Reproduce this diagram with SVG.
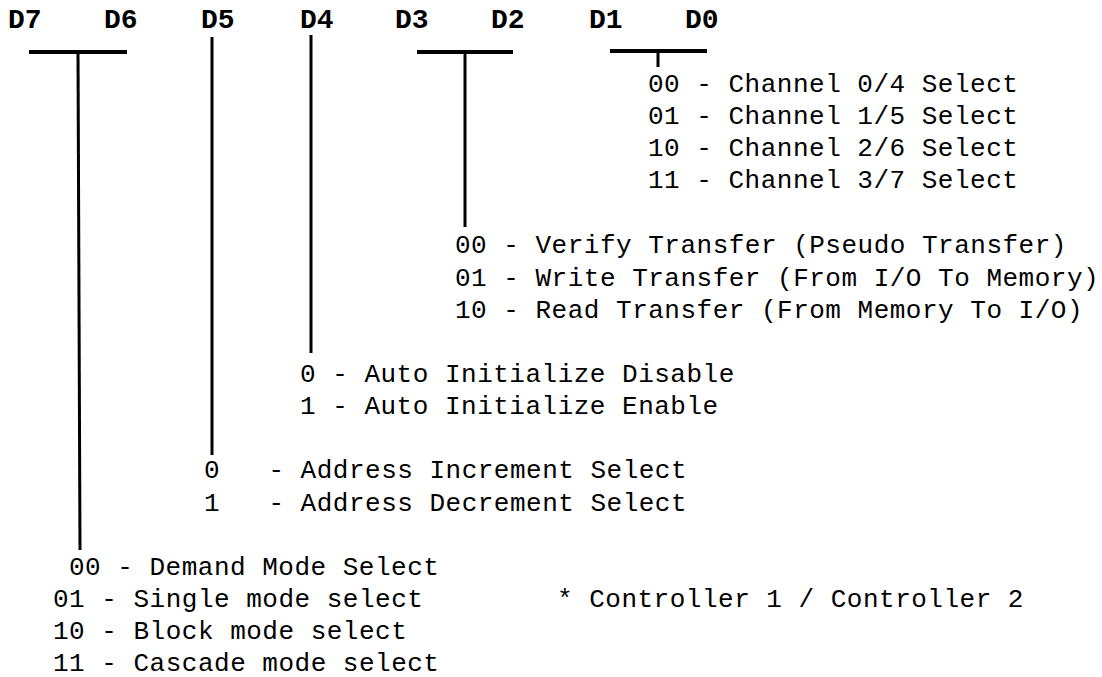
<svg xmlns="http://www.w3.org/2000/svg" width="1102" height="677" viewBox="0 0 1102 677">
<style>
.hdr{font-family:"Liberation Mono","DejaVu Sans Mono",monospace;font-weight:bold;font-size:28px;fill:#000}
.t{font-family:"Liberation Mono","DejaVu Sans Mono",monospace;font-size:26px;letter-spacing:0.5px;fill:#000}
.bar{stroke:#000;stroke-width:4;fill:none}
.ln{stroke:#000;stroke-width:3;fill:none}
</style>
<rect width="1102" height="677" fill="#fff"/>
<g id="headers">
<text class="hdr" x="8" y="28">D7</text>
<text class="hdr" x="104" y="28">D6</text>
<text class="hdr" x="201" y="28">D5</text>
<text class="hdr" x="300" y="28">D4</text>
<text class="hdr" x="395" y="28">D3</text>
<text class="hdr" x="491" y="28">D2</text>
<text class="hdr" x="589" y="28">D1</text>
<text class="hdr" x="685" y="28">D0</text>
</g>
<g id="connectors">
<line class="bar" x1="29" y1="52" x2="127" y2="52"/>
<line class="ln" x1="78" y1="52" x2="80" y2="550"/>
<line class="ln" x1="212" y1="37" x2="212" y2="455"/>
<line class="ln" x1="311" y1="35" x2="311" y2="353"/>
<line class="bar" x1="417" y1="52" x2="513" y2="52"/>
<line class="ln" x1="465" y1="52" x2="465" y2="227"/>
<line class="bar" x1="610" y1="51" x2="707" y2="51"/>
<line class="ln" x1="658" y1="51" x2="658" y2="67"/>
</g>
<g id="d1d0">
<text class="t" x="648" y="92" xml:space="preserve">00 - Channel 0/4 Select</text>
<text class="t" x="648" y="124" xml:space="preserve">01 - Channel 1/5 Select</text>
<text class="t" x="648" y="156" xml:space="preserve">10 - Channel 2/6 Select</text>
<text class="t" x="648" y="188" xml:space="preserve">11 - Channel 3/7 Select</text>
</g>
<g id="d3d2">
<text class="t" x="455" y="253" xml:space="preserve">00 - Verify Transfer (Pseudo Transfer)</text>
<text class="t" x="455" y="286" xml:space="preserve">01 - Write Transfer (From I/O To Memory)</text>
<text class="t" x="455" y="318" xml:space="preserve">10 - Read Transfer (From Memory To I/O)</text>
</g>
<g id="d4">
<text class="t" x="300" y="382" xml:space="preserve">0 - Auto Initialize Disable</text>
<text class="t" x="300" y="414" xml:space="preserve">1 - Auto Initialize Enable</text>
</g>
<g id="d5">
<text class="t" x="204" y="478" xml:space="preserve">0   - Address Increment Select</text>
<text class="t" x="204" y="511" xml:space="preserve">1   - Address Decrement Select</text>
</g>
<g id="d7d6">
<text class="t" x="69" y="575" xml:space="preserve">00 - Demand Mode Select</text>
<text class="t" x="53" y="607" xml:space="preserve">01 - Single mode select</text>
<text class="t" x="53" y="639" xml:space="preserve">10 - Block mode select</text>
<text class="t" x="53" y="671" xml:space="preserve">11 - Cascade mode select</text>
</g>
<g id="note">
<text class="t" x="557" y="607" xml:space="preserve">* Controller 1 / Controller 2</text>
</g>
</svg>
